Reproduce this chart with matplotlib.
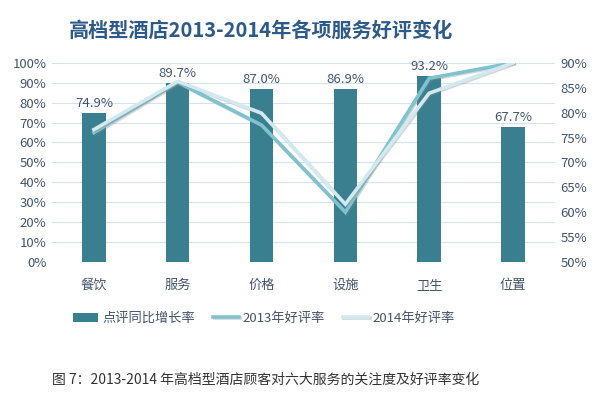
import numpy as np
import matplotlib
matplotlib.use('Agg')
import matplotlib.pyplot as plt
from matplotlib.ticker import PercentFormatter
import matplotlib.patheffects as pe

plt.rcParams['font.family'] = ['Noto Sans CJK SC', 'DejaVu Sans']

# 数据
categories = ['餐饮', '服务', '价格', '设施', '卫生', '位置']
growth = [74.9, 89.7, 87.0, 86.9, 93.2, 67.7]      # 点评同比增长率 (左轴)
rate_2013 = [76.0, 86.1, 77.5, 60.0, 86.9, 90.0]   # 2013年好评率 (右轴)
rate_2014 = [76.6, 86.3, 79.9, 61.6, 83.9, 90.0]   # 2014年好评率 (右轴)

text_color = '#44546a'
bar_color = '#3a7f90'
c2013 = '#7fc3cf'
c2014 = '#d2e9ef'
grid_color = '#d5e3f1'

fig = plt.figure(figsize=(6, 3.98), dpi=100)
ax = fig.add_axes([0.0867, 0.342, 0.838, 0.5])
ax2 = ax.twinx()

x = np.arange(len(categories))
bars = ax.bar(x, growth, width=0.28, color=bar_color, zorder=2,
              label='点评同比增长率')
for xi, v in zip(x, growth):
    ax.text(xi, v + 1.5, f'{v:.1f}%', ha='center', va='bottom',
            fontsize=9.5, color=text_color, zorder=5)

ax.set_xlim(-0.5, len(categories) - 0.5)
ax.set_ylim(0, 100)
ax.set_yticks(np.arange(0, 101, 10))
ax.yaxis.set_major_formatter(PercentFormatter(decimals=0))
ax.grid(axis='y', color=grid_color, lw=0.8, zorder=0)
ax.set_axisbelow(True)
ax.set_xticks(x)
ax.set_xticklabels(categories)

# 折线带一点阴影
shadow = [pe.SimpleLineShadow(offset=(0.8, -0.8), shadow_color='#888888', alpha=0.35), pe.Normal()]
l1, = ax2.plot(x, rate_2013, color=c2013, lw=2.6, label='2013年好评率',
               solid_joinstyle='miter', path_effects=shadow, zorder=3)
l2, = ax2.plot(x, rate_2014, color=c2014, lw=2.6, label='2014年好评率',
               solid_joinstyle='miter', path_effects=shadow, zorder=3)
ax2.set_ylim(50, 90)
ax2.set_yticks(np.arange(50, 91, 5))
ax2.yaxis.set_major_formatter(PercentFormatter(decimals=0))

for a in (ax, ax2):
    for s in a.spines.values():
        s.set_visible(False)
    a.tick_params(length=0, labelsize=9.5, colors=text_color)
ax.tick_params(axis='x', pad=12, labelsize=9.5)
ax.tick_params(axis='y', pad=4)
ax2.tick_params(axis='y', pad=4)

fig.text(0.435, 0.925, '高档型酒店2013-2014年各项服务好评变化', ha='center', va='center',
         fontsize=14.5, fontweight='bold', color='#2e5a8a')

fig.legend(handles=[bars, l1, l2], loc='center', bbox_to_anchor=(0.44, 0.2), ncol=3,
           frameon=False, fontsize=9.5, labelcolor=text_color, handlelength=1.9,
           columnspacing=1.4, handletextpad=0.3)

fig.text(0.442, 0.045, '图 7：2013-2014 年高档型酒店顾客对六大服务的关注度及好评率变化',
         ha='center', va='center', fontsize=10, color='#333333')

fig.savefig('out.png', dpi=100)
